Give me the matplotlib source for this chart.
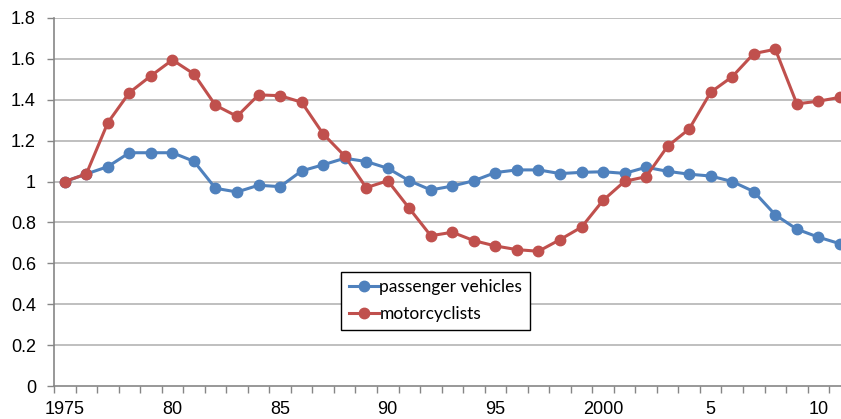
import matplotlib.pyplot as plt
import numpy as np

years = list(range(1975, 2012))
passenger = [1.0, 1.037, 1.073, 1.141, 1.141, 1.141, 1.099, 0.967, 0.949, 0.982,
             0.975, 1.052, 1.082, 1.114, 1.098, 1.065, 1.004, 0.959, 0.978, 1.004,
             1.044, 1.057, 1.057, 1.039, 1.045, 1.048, 1.040, 1.070, 1.050, 1.036,
             1.027, 1.0, 0.951, 0.837, 0.767, 0.728, 0.696]
motorcycle = [1.0, 1.037, 1.288, 1.435, 1.517, 1.595, 1.526, 1.373, 1.319, 1.424,
              1.420, 1.388, 1.233, 1.125, 0.970, 1.004, 0.869, 0.735, 0.752, 0.711,
              0.685, 0.667, 0.659, 0.716, 0.777, 0.908, 1.001, 1.024, 1.173, 1.257,
              1.437, 1.513, 1.626, 1.647, 1.380, 1.393, 1.412]
tick_labels = ['1975', '80', '85', '90', '95', '2000', '5', '10']

blue = '#4F81BD'
red = '#C0504D'
grid = '#BFBFBF'

fig = plt.figure(figsize=(8.41, 4.19), dpi=100)
ax = fig.add_axes([54/841, 33/419, 787/841, 368/419])

x = np.arange(len(years))
ax.plot(x, passenger, color=blue, lw=2.2, marker='o', ms=7.5, label='passenger vehicles',
        clip_on=False, zorder=3)
ax.plot(x, motorcycle, color=red, lw=2.2, marker='o', ms=7.5, label='motorcyclists',
        clip_on=False, zorder=3)

ax.set_xlim(-0.5, 36.05)
ax.set_ylim(0, 1.8)
yt = np.arange(0, 1.81, 0.2)
ax.set_yticks(yt)
ax.set_yticklabels(['0'] + ['%g' % v for v in yt[1:]])
for v in yt[1:]:
    ax.axhline(v, color=grid, lw=1.4, zorder=1)

ax.set_xticks(x[::5])
ax.set_xticklabels(tick_labels)
ax.set_xticks(np.arange(-0.5, 36.5, 1), minor=True)
ax.tick_params(axis='x', which='major', length=0, pad=11)
ax.tick_params(axis='x', which='minor', length=5, color='#868686', width=1, direction='out')
ax.tick_params(axis='y', length=5, color='#868686', width=1, direction='out', pad=8)
for lab in ax.get_xticklabels() + ax.get_yticklabels():
    lab.set_fontfamily('Liberation Sans')
    lab.set_fontsize(13)

for s in ['top', 'right']:
    ax.spines[s].set_visible(False)
for s in ['left', 'bottom']:
    ax.spines[s].set_color('#868686')
    ax.spines[s].set_linewidth(1.2)

leg = ax.legend(loc='lower left', bbox_to_anchor=(0.365, 0.152), borderaxespad=0,
                fancybox=False, edgecolor='black', framealpha=1,
                prop={'family': 'Lato', 'size': 12.5}, handlelength=1.7,
                handletextpad=0.05, borderpad=0.45, labelspacing=0.62)
leg.get_frame().set_linewidth(1.0)
leg.set_zorder(5)

fig.savefig('out.png', dpi=100)
